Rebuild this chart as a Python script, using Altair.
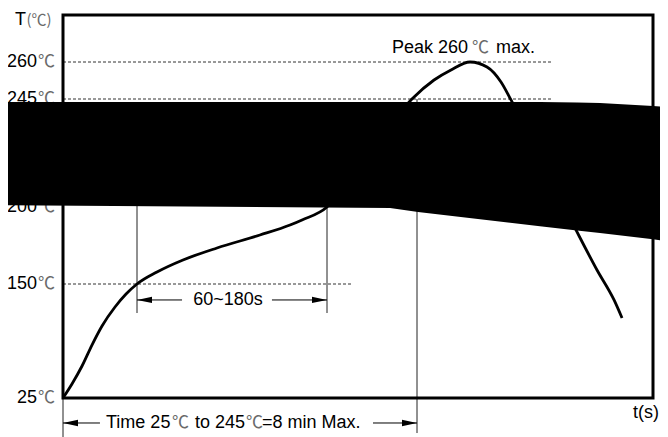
import altair as alt
import pandas as pd

# ---- data (time in s, temperature in deg C) ----
curve_t = [0, 5.6, 11.9, 18.1, 24.4, 32.5, 39.4, 46.25, 58.75, 75, 96.25, 123.1, 141.9,
           149.4, 165, 179.4, 195, 207.5, 218.1, 231.9, 242.5, 254.4, 265, 273.75, 280,
           300, 320.6, 333.75, 344.4, 349.4]
curve_T = [25, 40.4, 60.1, 83.1, 104.0, 124.8, 139.0, 150, 157.8, 165.6, 173.4, 181.8, 188.3,
           191.6, 200, 212.1, 225.8, 237.1, 245, 252.7, 256.8, 260, 258.0, 251.9, 244.6,
           217.5, 185.1, 159.1, 132.5, 112.7]

tick_T = [25, 150, 200, 245, 260]
tick_txt = [str(v) for v in tick_T]

# dotted reference lines: temperature, end time
dot_T = [260, 245, 150]
dot_end = [306.25, 306.25, 180.6]

# thin vertical marker lines: time, lower temp, upper temp
vline_t = [46.25, 165, 221.25, 0]
vline_lo = [118.2, 118.2, -13.4, -17.8]
vline_hi = [205, 205, 245, 25]

# dimension arrows: start time, end time, temperature level
arrow_x1 = [46.25, 130.6, 0, 193.75]
arrow_x2 = [74.4, 165, 23.1, 221.25]
arrow_y = [132.5, 132.5, -2.4, -2.4]
head_left_t = [46.25, 0]
head_left_T = [132.5, -2.4]
head_right_t = [165, 221.25]
head_right_T = [132.5, -2.4]

# redaction block (time, top temp, bottom temp)
blk_t = [-39.4, 204.4, 221.9, 298.1, 321.25, 335.6, 368.75, 378.1]
blk_top = [243.75, 243.75, 243.75, 243.75, 243.5, 243.3, 242.1, 241.7]
blk_bot = [200.8, 199.35, 196.8, 187.5, 184.8, 183.05, 179.0, 177.9]

T_MAX = 368.75
TEMP_TOP = 279.05

xs = alt.Scale(domain=[0, T_MAX], range=[55, 645], nice=False, zero=False)
ys = alt.Scale(domain=[25, 150, 200, 245, 260, TEMP_TOP],
               range=[390, 276, 199, 91, 54, 7], nice=False, zero=False)

FONT = "Liberation Sans"
CJK = "Noto Sans CJK SC"
DEG_COLOR = "#6a6a6a"


def X(f):
    return alt.X(f, type="quantitative", scale=xs, axis=None)


def Y(f):
    return alt.Y(f, type="quantitative", scale=ys, axis=None)


frame = alt.Chart(pd.DataFrame({"t0": [0], "t1": [T_MAX], "T0": [25], "T1": [TEMP_TOP]})).mark_rect(
    fillOpacity=0, stroke="black", strokeWidth=3
).encode(x=X("t0"), x2="t1", y=Y("T0"), y2="T1")

dots = alt.Chart(pd.DataFrame({"T": dot_T, "t0": [0] * 3, "t1": dot_end})).mark_rule(
    strokeDash=[3, 2], strokeWidth=1, color="#333333"
).encode(x=X("t0"), x2="t1", y=Y("T"))

vlines = alt.Chart(pd.DataFrame({"t": vline_t, "lo": vline_lo, "hi": vline_hi})).mark_rule(
    strokeWidth=1, color="#222222"
).encode(x=X("t"), y=Y("lo"), y2="hi")

arrows = alt.Chart(pd.DataFrame({"a": arrow_x1, "b": arrow_x2, "T": arrow_y})).mark_rule(
    strokeWidth=1, color="black"
).encode(x=X("a"), x2="b", y=Y("T"))

head_l = alt.Chart(pd.DataFrame({"t": head_left_t, "T": head_left_T})).mark_point(
    shape="M0,0L2,-0.42L2,0.42Z", size=225, filled=True, color="black", opacity=1
).encode(x=X("t"), y=Y("T"))

head_r = alt.Chart(pd.DataFrame({"t": head_right_t, "T": head_right_T})).mark_point(
    shape="M0,0L-2,-0.42L-2,0.42Z", size=225, filled=True, color="black", opacity=1
).encode(x=X("t"), y=Y("T"))

curve = alt.Chart(pd.DataFrame({"t": curve_t, "T": curve_T})).mark_line(
    color="black", strokeWidth=2.8, interpolate="monotone"
).encode(x=X("t"), y=Y("T"), order="t:Q")

# tick labels (numbers, right aligned) and their degree signs
tick_df = pd.DataFrame({"T": tick_T, "txt": tick_txt, "tn": [-16.25] * 5, "td": [-15.6] * 5})
tick_num = alt.Chart(tick_df).mark_text(
    align="right", baseline="middle", font=FONT, fontSize=18, color="black"
).encode(x=X("tn"), y=Y("T"), text="txt:N")
tick_deg = alt.Chart(tick_df).mark_text(
    align="left", baseline="middle", font=CJK, fontSize=17, color=DEG_COLOR
).encode(x=X("td"), y=Y("T"), text=alt.value("℃"))

# other texts, left aligned
lt_txt = ["T", "Peak 260", "max.", "Time 25", "to 245", "=8 min Max.", "t(s)"]
lt_t = [-30, 205.6, 270.6, 26.9, 82.5, 124.4, 356.3]
lt_T = [277.2, 265.7, 265.7, -2.0, -2.0, -2.0, 8.5]
left_txt = alt.Chart(pd.DataFrame({"t": lt_t, "T": lt_T, "txt": lt_txt})).mark_text(
    align="left", baseline="middle", font=FONT, fontSize=18, color="black"
).encode(x=X("t"), y=Y("T"), text="txt:N")

dg_txt = ["℃", "℃", "℃"]
dg_t = [255.6, 68.1, 114.4]
dg_T = [265.7, -2.0, -2.0]
deg_txt = alt.Chart(pd.DataFrame({"t": dg_t, "T": dg_T, "txt": dg_txt})).mark_text(
    align="left", baseline="middle", font=CJK, fontSize=17, color=DEG_COLOR
).encode(x=X("t"), y=Y("T"), text="txt:N")

unit_txt = alt.Chart(pd.DataFrame({"t": [-22.8], "T": [277.2], "txt": ["(℃)"]})).mark_text(
    align="left", baseline="middle", font=CJK, fontSize=15, color=DEG_COLOR
).encode(x=X("t"), y=Y("T"), text="txt:N")

mid_txt = alt.Chart(pd.DataFrame({"t": [103.1], "T": [132.5], "txt": ["60~180s"]})).mark_text(
    align="center", baseline="middle", font=FONT, fontSize=18, color="black"
).encode(x=X("t"), y=Y("T"), text="txt:N")

block = alt.Chart(pd.DataFrame({"bt": blk_t, "btop": blk_top, "bbot": blk_bot})).mark_area(
    color="black", opacity=1, orient="vertical"
).encode(x=X("bt"), y=Y("btop"), y2=alt.Y2("bbot"))

chart = alt.layer(
    dots, vlines, arrows, head_l, head_r, frame, curve,
    tick_num, tick_deg, left_txt, deg_txt, unit_txt, mid_txt, block
).properties(
    width=652, height=429,
    autosize=alt.AutoSizeParams(type="none"),
    padding=0,
).configure_view(stroke=None)

chart.save("out.html", embed_options={"renderer": "svg", "actions": False})
